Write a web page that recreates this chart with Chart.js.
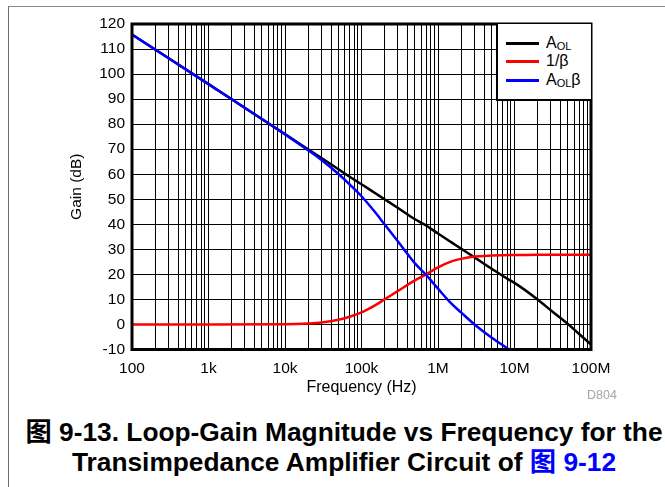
<!DOCTYPE html>
<html><head><meta charset="utf-8">
<script src="https://cdn.jsdelivr.net/npm/chart.js@4/dist/chart.umd.min.js"></script>
<style>
html,body{margin:0;padding:0;background:#fff;width:665px;height:487px;overflow:hidden;font-family:"Liberation Sans",Arial,"Noto Sans CJK SC",sans-serif;}
#frame{position:absolute;left:8px;top:6px;width:720px;height:520px;border-left:1.5px solid #6e6e6e;border-top:1.5px solid #8a8a8a;}
#wrap{position:absolute;left:0;top:0;width:665px;height:400px;}
#legend{position:absolute;left:496px;top:24px;width:95px;height:77px;box-sizing:border-box;background:#fff;border-left:2px solid #000;border-bottom:2px solid #000;}
.row{position:absolute;left:0;height:20px;width:95px;}
.sw{position:absolute;left:8px;width:33px;height:2.5px;}
.lt{position:absolute;left:48px;font-size:16px;color:#000;line-height:20px;top:0;white-space:nowrap;}
.lt sub{font-size:11px;vertical-align:baseline;position:relative;top:2px;}
#d804{position:absolute;left:587px;top:388px;font-size:12.5px;color:#a6a6a6;}
.cap{position:absolute;left:8px;width:672px;text-align:center;font-weight:bold;font-size:26.3px;line-height:30px;color:#000;white-space:nowrap;}
.cap .b{color:#0000ff;}
</style>
</head><body>
<div id="frame"></div>
<div id="wrap"><canvas id="c" width="665" height="400"></canvas></div>
<div id="legend">
  <div class="row" style="top:9px"><div class="sw" style="top:9px;background:#000"></div><div class="lt">A<sub>OL</sub></div></div>
  <div class="row" style="top:27px"><div class="sw" style="top:9px;background:#ff0000"></div><div class="lt">1/β</div></div>
  <div class="row" style="top:46px"><div class="sw" style="top:9px;background:#0000ff"></div><div class="lt">A<sub>OL</sub>β</div></div>
</div>
<div id="d804">D804</div>
<div class="cap" style="top:417px">图 9-13. Loop-Gain Magnitude vs Frequency for the</div>
<div class="cap" style="top:447px">Transimpedance Amplifier Circuit of <span class="b">图 9-12</span></div>
<script>
// Frequencies (Hz) at which the curves were read
const freqHz = [100, 1e3, 1e4, 2e4, 3e4, 5e4, 7e4, 1e5, 1.5e5, 2e5, 3e5, 5e5, 7e5, 1e6, 1.5e6, 2e6, 3e6, 5e6, 8.5e6, 1e7, 2e7, 3e7, 5e7, 7e7, 1e8];
// A_OL (dB)
const aolDb = [115.8, 96, 76, 70, 66.5, 62, 59, 56, 52.5, 50, 46.5, 42, 39.5, 36.3, 32.8, 30.3, 26.8, 22.3, 17.8, 16.6, 10, 5.6, 0.2, -3.8, -8];
// 1/beta (dB)
const invBetaDb = [0, 0, 0.1, 0.4, 0.8, 1.9, 3.1, 4.8, 7.6, 10, 13.4, 17.6, 20.0, 22.8, 25.2, 26.2, 27.1, 27.5, 27.7, 27.7, 27.8, 27.8, 27.8, 27.8, 27.8];
// A_OL*beta (dB)
const loopGainDb = [115.8, 96, 75.9, 69.6, 65.7, 60.1, 55.9, 51.2, 44.9, 40, 33.1, 24.4, 19.8, 14.3, 8.3, 4.8, 0, -5.2, -10, null, null, null, null, null, null];

const xTickValues = [100, 1e3, 1e4, 1e5, 1e6, 1e7, 1e8];
const xTickLabels = ['100', '1k', '10k', '100k', '1M', '10M', '100M'];
const yMin = -10, yMax = 120, yStep = 10;

function pts(vals) {
  const out = [];
  freqHz.forEach((f, i) => { if (vals[i] !== null) out.push({x: f, y: vals[i]}); });
  return out;
}
// grid lines at 1..9 x each decade
const gridVals = [];
for (let d = 0; d < xTickValues.length - 1; d++) {
  for (let k = 1; k <= 9; k++) gridVals.push(xTickValues[d] * k);
}
gridVals.push(xTickValues[xTickValues.length - 1]);

const frameBox = {
  id: 'frameBox',
  afterDraw(chart) {
    const {ctx, chartArea: a} = chart;
    ctx.save();
    ctx.strokeStyle = '#000';
    ctx.lineWidth = 3;
    ctx.strokeRect(a.left, a.top, a.right - a.left, a.bottom - a.top);
    ctx.restore();
  }
};

const tickFont = {family: '"Liberation Sans", Arial, sans-serif', size: 15.5};
new Chart(document.getElementById('c'), {
  type: 'line',
  data: {
    datasets: [
      {label: 'AOLβ', data: pts(loopGainDb), borderColor: '#0000ff', borderWidth: 2.5, pointRadius: 0, cubicInterpolationMode: 'monotone', fill: false, order: 0},
      {label: '1/β', data: pts(invBetaDb), borderColor: '#ff0000', borderWidth: 2.5, pointRadius: 0, cubicInterpolationMode: 'monotone', fill: false, order: 1},
      {label: 'AOL', data: pts(aolDb), borderColor: '#000000', borderWidth: 2.5, pointRadius: 0, cubicInterpolationMode: 'monotone', fill: false, order: 2}
    ]
  },
  options: {
    responsive: false,
    animation: false,
    events: [],
    layout: {padding: {left: 0, top: 24, right: 74, bottom: 0}},
    plugins: {legend: {display: false}, tooltip: {enabled: false}},
    scales: {
      x: {
        type: 'logarithmic', min: 100, max: 1e8,
        afterBuildTicks(scale) { scale.ticks = gridVals.map(v => ({value: v})); },
        afterFit(scale) { scale.height = 50.5; },
        grid: {color: '#000', lineWidth: 1, drawTicks: false},
        border: {display: false},
        ticks: {
          autoSkip: false, maxRotation: 0, minRotation: 0, padding: 10, color: '#000', font: tickFont,
          callback(v) {
            const i = xTickValues.findIndex(t => Math.abs(t - v) / t < 1e-6);
            return i >= 0 ? xTickLabels[i] : '';
          }
        },
        title: {display: true, text: 'Frequency (Hz)', color: '#000', font: {family: '"Liberation Sans", Arial, sans-serif', size: 16}, padding: {top: 0, bottom: 2.4}}
      },
      y: {
        min: yMin, max: yMax,
        afterFit(scale) { scale.width = 132; },
        grid: {color: '#000', lineWidth: 1, drawTicks: false},
        border: {display: false},
        ticks: {stepSize: yStep, padding: 7, color: '#000', font: tickFont},
        title: {display: true, text: 'Gain (dB)', color: '#000', font: {family: '"Liberation Sans", Arial, sans-serif', size: 15.5}, padding: {top: 67.7, bottom: 0}}
      }
    }
  },
  plugins: [frameBox]
});
</script>
</body></html>
